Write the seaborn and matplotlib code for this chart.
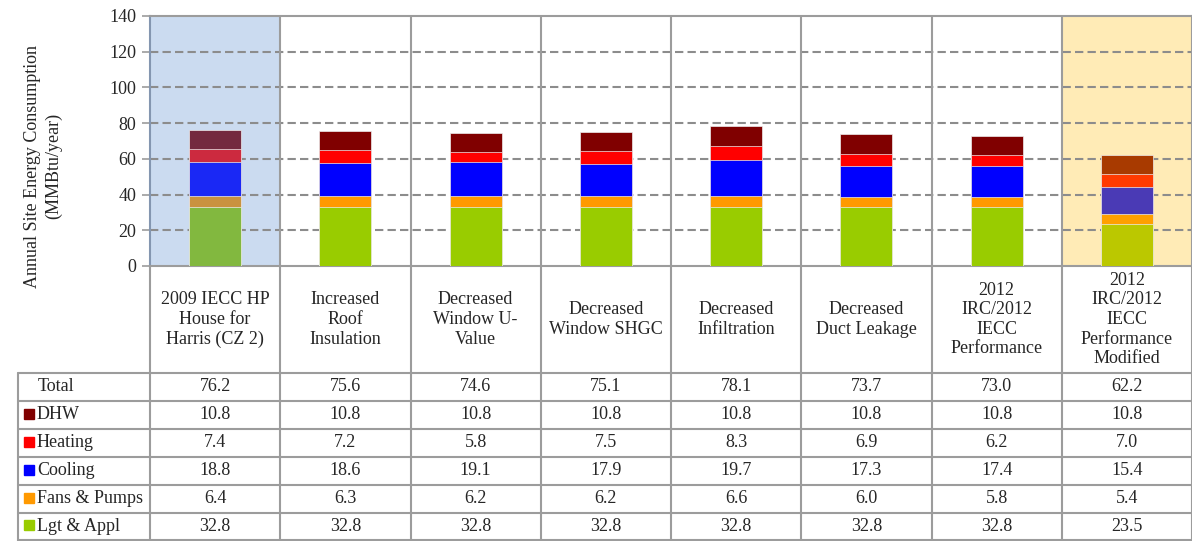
import numpy as np
import pandas as pd
import matplotlib
matplotlib.use("Agg")
import matplotlib.pyplot as plt
import seaborn as sns

# ==========================
# Data
# ==========================

categories = [
    "2009 IECC HP\nHouse for\nHarris (CZ 2)",
    "Increased\nRoof\nInsulation",
    "Decreased\nWindow U-\nValue",
    "Decreased\nWindow SHGC",
    "Decreased\nInfiltration",
    "Decreased\nDuct Leakage",
    "2012\nIRC/2012\nIECC\nPerformance",
    "2012\nIRC/2012\nIECC\nPerformance\nModified",
]

# stack order bottom -> top
series = ["Lgt & Appl", "Fans & Pumps", "Cooling", "Heating", "DHW"]

lgt_appl = [32.8, 32.8, 32.8, 32.8, 32.8, 32.8, 32.8, 23.5]
fans_pumps = [6.4, 6.3, 6.2, 6.2, 6.6, 6.0, 5.8, 5.4]
cooling = [18.8, 18.6, 19.1, 17.9, 19.7, 17.3, 17.4, 15.4]
heating = [7.4, 7.2, 5.8, 7.5, 8.3, 6.9, 6.2, 7.0]
dhw = [10.8, 10.8, 10.8, 10.8, 10.8, 10.8, 10.8, 10.8]
totals = [76.2, 75.6, 74.6, 75.1, 78.1, 73.7, 73.0, 62.2]

table_rows = ["Total", "DHW", "Heating", "Cooling", "Fans & Pumps", "Lgt & Appl"]

# ==========================
# Style
# ==========================

base_colors = {
    "Lgt & Appl": "#99CC00",
    "Fans & Pumps": "#FF9900",
    "Cooling": "#0000FF",
    "Heating": "#FF0000",
    "DHW": "#800000",
}
# first / last columns sit under a tinted panel
first_colors = {
    "Lgt & Appl": "#82B83F",
    "Fans & Pumps": "#C9923F",
    "Cooling": "#1A28F5",
    "Heating": "#CC2A3F",
    "DHW": "#742A3F",
}
last_colors = {
    "Lgt & Appl": "#BBC800",
    "Fans & Pumps": "#FFA000",
    "Cooling": "#4A3AB5",
    "Heating": "#FF3A00",
    "DHW": "#A83A00",
}

W, H = 1192, 541
LINE = "#9C9C9C"
FS = 13

sns.set_style("white")
plt.rcParams["font.family"] = ["Liberation Serif", "DejaVu Serif"]

fig = plt.figure(figsize=(W / 100, H / 100), dpi=100)
ax = fig.add_axes([150 / W, 1 - 266 / H, (W - 150) / W, 250 / H])

# ==========================
# Stacked bars
# ==========================

df = pd.DataFrame({
    "cat": categories,
    "Lgt & Appl": lgt_appl,
    "Fans & Pumps": fans_pumps,
    "Cooling": cooling,
    "Heating": heating,
    "DHW": dhw,
})
cum = df[series].cumsum(axis=1)
n = len(categories)

# draw tallest layer first, lower layers over it
for s in reversed(series):
    pal = [base_colors[s]] * n
    pal[0] = first_colors[s]
    pal[-1] = last_colors[s]
    sns.barplot(
        x=df["cat"], y=cum[s], hue=df["cat"], palette=pal,
        width=0.4, legend=False, ax=ax,
        edgecolor="#EDEDED", linewidth=0.5, saturation=1, zorder=3,
    )

ax.axvspan(-0.5, 0.5, facecolor="#CBDBF0", zorder=0.2, lw=0)
ax.axvspan(n - 1.5, n - 0.5, facecolor="#FFEBB6", zorder=0.2, lw=0)

ax.set_xlim(-0.5, n - 0.5)
ax.set_ylim(0, 140)
ax.set_yticks(np.arange(0, 141, 20))
ax.tick_params(axis="y", labelsize=FS, length=6, width=1.2, color=LINE,
               left=True, pad=4)
ax.set_xticks([])
ax.set_xlabel("")
ax.set_ylabel("")

for yv in range(20, 140, 20):
    ax.axhline(yv, color="#8C8C8C", lw=1.5, ls=(0, (4, 2)), zorder=1.5)

for k in range(n - 1):
    ax.axvline(k + 0.5, color=LINE, lw=1.5, zorder=1.6)

for side in ["left", "top", "bottom", "right"]:
    ax.spines[side].set_color(LINE)
    ax.spines[side].set_linewidth(1.5)
ax.spines["left"].set_color("#8496B0")

fig.text(43 / W, 1 - 166 / H, "Annual Site Energy Consumption\n(MMBtu/year)",
         rotation=90, ha="center", va="center", fontsize=FS, linespacing=1.25)

# ==========================
# Data table
# ==========================

tax = fig.add_axes([150 / W, 0, (W - 150) / W, 275 / H])
tax.set_xlim(-0.5, n - 0.5)
tax.set_ylim(H, 266)
tax.axis("off")

col_px = (W - 150) / n
left_x = -0.5 - 132 / col_px
row_top = 373
row_h = 27.9
row_edges = [row_top + row_h * i for i in range(len(table_rows) + 1)]

# vertical lines
for k in range(n):
    tax.plot([k - 0.5, k - 0.5], [266, H], color=LINE, lw=1.5, clip_on=False)
tax.plot([n - 0.5, n - 0.5], [266, H], color=LINE, lw=1.5, clip_on=False)
tax.plot([left_x, left_x], [row_top, H], color=LINE, lw=1.5, clip_on=False)

# horizontal lines
for y in row_edges:
    tax.plot([left_x, n - 0.5], [y, y], color=LINE, lw=1.5, clip_on=False)

# category header
for k, c in enumerate(categories):
    tax.text(k, (266 + row_top) / 2, c, ha="center", va="center",
             fontsize=FS, linespacing=1.2)

values = {
    "Total": totals,
    "DHW": dhw,
    "Heating": heating,
    "Cooling": cooling,
    "Fans & Pumps": fans_pumps,
    "Lgt & Appl": lgt_appl,
}

sw = 10 / col_px
for i, r in enumerate(table_rows):
    yc = row_edges[i] + row_h / 2
    if r == "Total":
        tax.text(left_x + 20 / col_px, yc, r, ha="left", va="center",
                 fontsize=FS, clip_on=False)
    else:
        tax.add_patch(plt.Rectangle((left_x + 6 / col_px, yc - 6), sw, 10,
                                    color=base_colors[r], clip_on=False))
        tax.text(left_x + 19 / col_px, yc, r, ha="left", va="center",
                 fontsize=FS, clip_on=False)
    for k, v in enumerate(values[r]):
        tax.text(k, yc, f"{v:.1f}", ha="center", va="center", fontsize=FS)

fig.savefig("out.png", dpi=100)
